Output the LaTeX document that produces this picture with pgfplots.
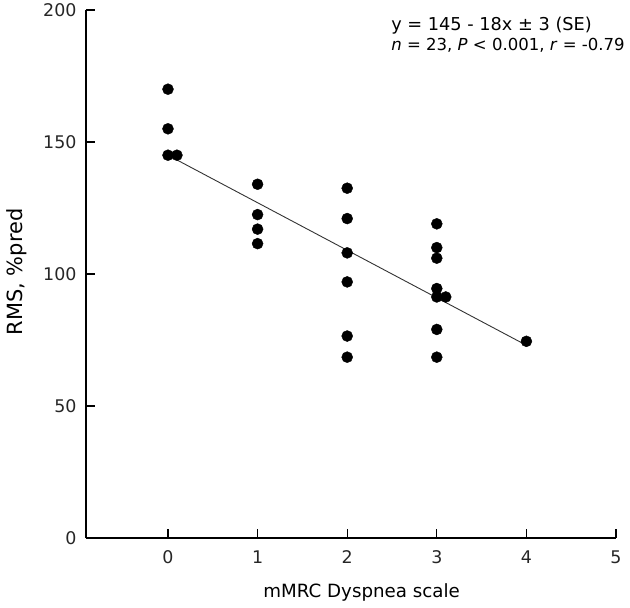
\documentclass[border=0pt]{standalone}
\usepackage{pgfplots}
\pgfplotsset{compat=1.18}
\usepackage{fontspec}
\setmainfont{DejaVu Sans}
\begin{document}
\begin{tikzpicture}
\begin{axis}[
  scale only axis,
  width=530bp, height=528bp,
  xmin=-0.915, xmax=5, ymin=0, ymax=200,
  axis x line*=bottom, axis y line*=left,
  axis line style={line width=1.1bp, black},
  tick align=inside,
  major tick length=9bp,
  tick style={line width=1.1bp, black},
  xtick={0,1,2,3,4,5}, ytick={0,50,100,150,200},
  /pgf/number format/assume math mode=true,
  tick label style={font=\fontsize{17.5}{20}\selectfont, text=black!85},
  xticklabel style={yshift=-9bp},
  yticklabel style={xshift=-6bp},
  clip=false,
]
\addplot[only marks, mark=*, mark size=5.5bp, black] coordinates {
  (0,170) (0,155) (0,145) (0.1,145)
  (1,134) (1,122.5) (1,117) (1,111.5)
  (2,132.5) (2,121) (2,108) (2,97) (2,76.5) (2,68.5)
  (3,119) (3,110) (3,106) (3,94.5) (3,91.3) (3.1,91.3) (3,79) (3,68.5)
  (4,74.5)
};
\addplot[black!80, line width=0.9bp] coordinates {(0.1,143.2) (4,73)};
\node[anchor=base west, font=\fontsize{17.8}{20}\selectfont, inner sep=0pt] at (axis cs:2.49,192.4) {y = 145 - 18x ± 3 (SE)};
\node[anchor=base west, font=\fontsize{16.6}{20}\selectfont, inner sep=0pt] at (axis cs:2.49,184.5) {\textit{n} = 23, \textit{P} < 0.001, \textit{r} = -0.79};
\node[anchor=base, font=\fontsize{18.3}{20}\selectfont, inner sep=0pt] at (axis description cs:0.52,-0.112) {mMRC Dyspnea scale};
\node[rotate=90, anchor=center, font=\fontsize{21}{24}\selectfont, inner sep=0pt] at (axis description cs:-0.13,0.504) {RMS, \%pred};
\end{axis}
\pgfresetboundingbox
\path[use as bounding box] ([xshift=-86bp,yshift=-70bp]current axis.south west) rectangle ([xshift=14bp,yshift=10bp]current axis.north east);
\end{tikzpicture}
\end{document}
